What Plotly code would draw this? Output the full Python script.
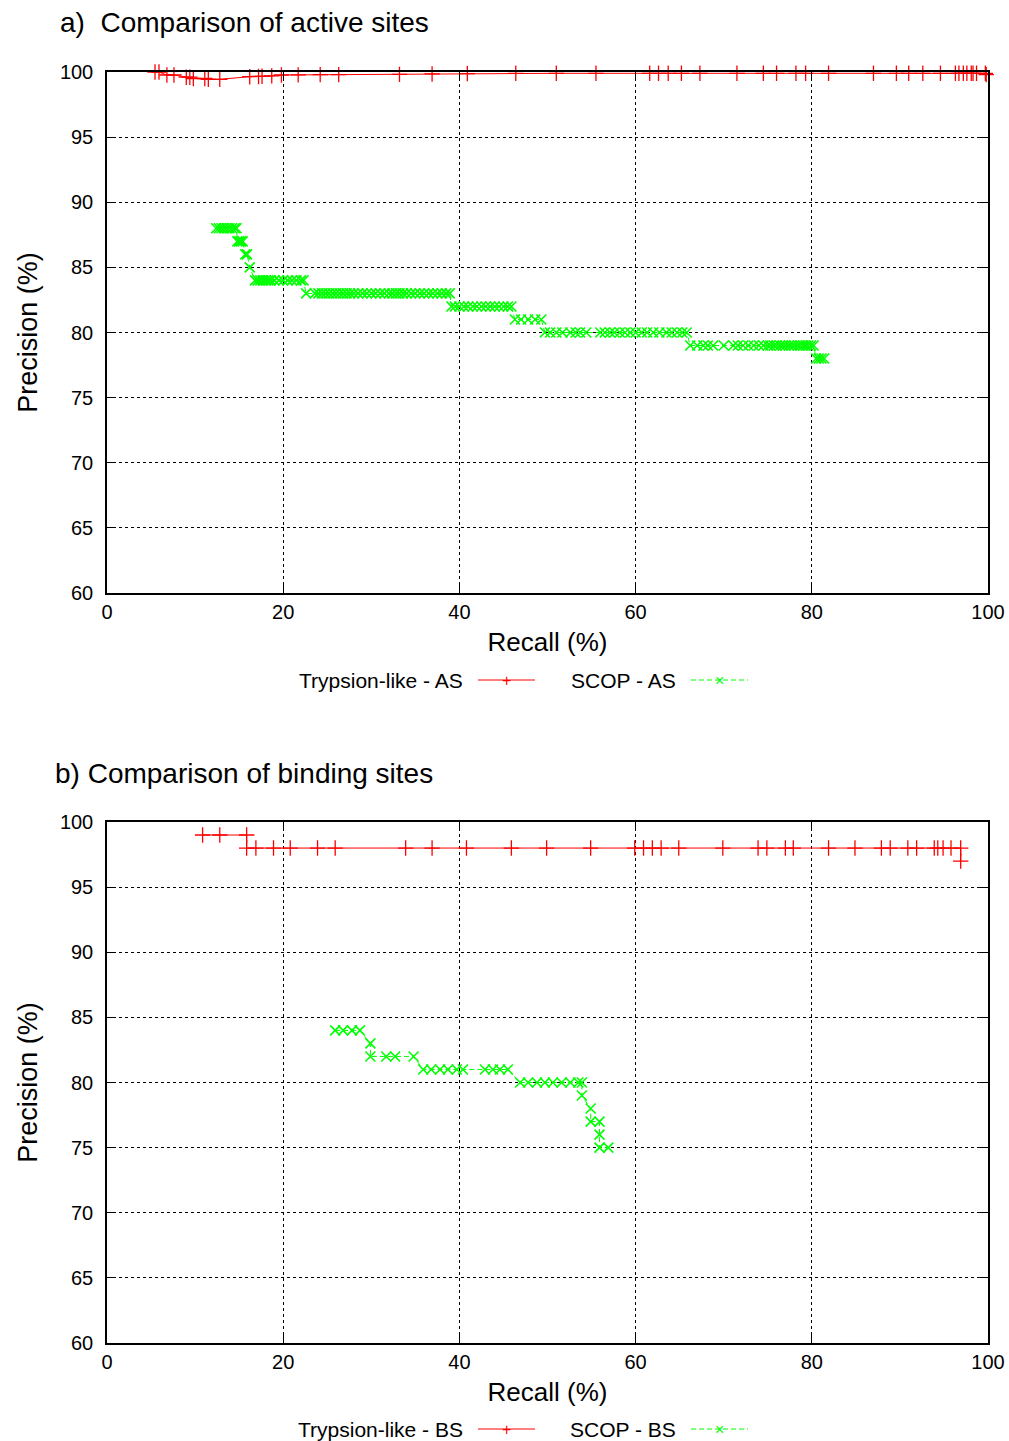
import plotly.graph_objects as go

# ---------------- data: a) active sites ----------------
tryp_as_recall = [5.45, 5.9, 6.8, 7.6, 9.0, 9.4, 9.8, 11.1, 11.5, 12.8, 16.2, 17.2, 17.6,
                  18.7, 19.8, 21.7, 24.2, 26.3, 33.2, 36.9, 40.9, 46.4, 51.0, 55.5, 61.6,
                  62.6, 63.7, 65.2, 67.3, 71.5, 74.5, 76.0, 78.2, 79.3, 81.9, 87.0, 89.6,
                  91.0, 92.6, 94.6, 96.3, 96.7, 97.2, 97.6, 98.1, 98.3, 98.7, 99.7, 99.8]
tryp_as_precision = [100, 100, 99.77, 99.77, 99.6, 99.6, 99.5, 99.5, 99.44, 99.44, 99.64,
                     99.66, 99.67, 99.7, 99.77, 99.78, 99.8, 99.8, 99.82, 99.85, 99.88, 99.9,
                     99.9, 99.9, 99.9, 99.9, 99.9, 99.9, 99.9, 99.9, 99.9, 99.9, 99.9, 99.9,
                     99.9, 99.9, 99.9, 99.9, 99.9, 99.9, 99.9, 99.9, 99.9, 99.9, 99.9, 99.9,
                     99.9, 99.9, 99.8]

scop_as_recall = [
    12.4, 12.7, 13.0, 13.3, 13.6, 13.9, 14.2, 14.5, 14.7,
    14.8, 15.0, 15.2, 15.4,
    15.7, 15.9,
    16.2,
    16.8, 17.1, 17.4, 17.7, 18.0, 18.3, 18.6, 19.0, 19.5, 20.0, 20.5, 21.0, 21.5, 22.0, 22.3,
    22.6, 23.6, 24.0, 24.4, 24.8, 25.2, 25.6, 26.0, 26.4, 26.8, 27.2, 27.6, 28.0, 28.5, 29.0,
    29.5, 30.0, 30.5, 31.0, 31.5, 32.0, 32.4, 32.8, 33.2, 33.6, 34.0, 34.5, 35.0, 35.5, 36.0,
    36.5, 37.0, 37.5, 38.0, 38.5, 38.9,
    39.1, 39.5, 40.0, 40.5, 41.0, 41.5, 42.0, 42.5, 43.0, 43.5, 44.0, 44.5, 45.0, 45.5, 45.9,
    46.3, 47.0, 47.8, 48.6, 49.3,
    49.7, 50.3, 51.0, 51.7, 52.6, 53.2, 53.7, 54.4, 56.0, 56.5, 57.1, 57.6, 58.2, 58.8, 59.4,
    60.0, 60.7, 61.3, 62.0, 62.7, 63.5, 64.1, 64.7, 65.3, 65.8,
    66.2, 67.0, 67.7, 68.2, 68.8, 70.0, 71.1, 71.6, 72.2, 72.8, 73.4, 74.0, 74.5, 75.0, 75.3,
    75.7, 76.0, 76.4, 76.7, 77.0, 77.4, 77.7, 78.0, 78.4, 78.7, 79.0, 79.3, 79.6, 79.9, 80.2,
    80.5, 80.8, 81.1, 81.4]
scop_as_precision = (
    [88] * 9 + [87] * 4 + [86] * 2 + [85] * 1 + [84] * 15 + [83] * 36 + [82] * 15 +
    [81] * 5 + [80] * 25 + [79] * 30 + [78] * 4)

# ---------------- data: b) binding sites ----------------
tryp_bs_recall = [10.85, 12.8, 15.85, 15.85, 16.9, 18.9, 20.8, 23.9, 25.9, 33.9, 36.9, 40.8,
                  45.9, 49.9, 54.9, 59.9, 60.9, 61.9, 62.9, 64.9, 69.9, 73.9, 74.9, 77.0,
                  77.9, 81.9, 84.9, 87.9, 88.9, 90.9, 91.9, 93.9, 94.3, 94.9, 95.8, 96.9,
                  96.9]
tryp_bs_precision = [99, 99, 99, 98, 98, 98, 98, 98, 98, 98, 98, 98, 98, 98, 98, 98, 98, 98,
                     98, 98, 98, 98, 98, 98, 98, 98, 98, 98, 98, 98, 98, 98, 98, 98, 98, 98,
                     97]

scop_bs_recall = [25.9, 26.8, 27.8, 28.7, 29.9, 29.9, 31.7, 32.7, 34.8, 35.9, 36.8, 37.8,
                  38.7, 39.7, 40.4, 42.9, 43.8, 44.6, 45.5, 46.9, 47.8, 48.8, 49.7, 50.6,
                  51.6, 52.6, 53.5, 53.9, 53.9, 54.9, 54.9, 55.9, 55.9, 55.9, 56.9]
scop_bs_precision = [84, 84, 84, 84, 83, 82, 82, 82, 82, 81, 81, 81, 81, 81, 81, 81, 81, 81,
                     81, 80, 80, 80, 80, 80, 80, 80, 80, 80, 79, 78, 77, 77, 76, 75, 75]

x_ticks = [0, 20, 40, 60, 80, 100]
y_ticks = [60, 65, 70, 75, 80, 85, 90, 95, 100]

titles = ["a)  Comparison of active sites", "b) Comparison of binding sites"]
legend_a = ["Trypsion-like - AS", "SCOP - AS"]
legend_b = ["Trypsion-like - BS", "SCOP - BS"]

RED = "#ff0000"
GREEN = "#00ff00"
FONT = "Liberation Sans, Arial, Helvetica, sans-serif"
GDASH = "5px,3px"

W, H = 1009, 1441
L, R = 107, 21
PW = W - L - R


def px_x(p):
    return (p - L) / PW


def px_y(p):
    return (H - p) / H


fig = go.Figure()


def add_pair(xr, xs_red, ys_red, xs_g, ys_g, name_r, name_g):
    fig.add_trace(go.Scatter(
        x=xs_red, y=ys_red, mode="lines+markers", name=name_r, xaxis=xr[0], yaxis=xr[1],
        line=dict(color=RED, width=1),
        marker=dict(symbol="cross-thin", size=11, line=dict(color=RED, width=1.3)),
        cliponaxis=False, showlegend=False))
    fig.add_trace(go.Scatter(
        x=xs_g, y=ys_g, mode="lines+markers", name=name_g, xaxis=xr[0], yaxis=xr[1],
        line=dict(color=GREEN, width=1, dash=GDASH),
        marker=dict(symbol="x-thin", size=10, line=dict(color=GREEN, width=1.6)),
        cliponaxis=False, showlegend=False))


add_pair(("x", "y"), tryp_as_recall, tryp_as_precision, scop_as_recall, scop_as_precision,
         legend_a[0], legend_a[1])
add_pair(("x2", "y2"), tryp_bs_recall, tryp_bs_precision, scop_bs_recall, scop_bs_precision,
         legend_b[0], legend_b[1])

axis_common = dict(
    showline=True, linecolor="black", linewidth=1.5, mirror="ticks",
    ticks="inside", ticklen=8, tickwidth=1, tickcolor="black",
    showgrid=True, gridcolor="black", gridwidth=1, griddash="dot",
    zeroline=False, automargin=False,
    tickfont=dict(family=FONT, size=20, color="black"),
)

xa = dict(axis_common, range=[0, 100], tickvals=x_ticks, ticktext=[str(v) for v in x_ticks],
          title=dict(text="Recall (%)", font=dict(family=FONT, size=26, color="black"),
                     standoff=11))
ya = dict(axis_common, range=[60, 100], tickvals=y_ticks, ticktext=[str(v) for v in y_ticks],
          ticklabelstandoff=8,
          title=dict(text="Precision (%)", font=dict(family=FONT, size=27, color="black"),
                     standoff=14))

fig.update_layout(
    template="none",
    width=W, height=H,
    margin=dict(l=L, r=R, t=0, b=0, pad=0, autoexpand=False),
    paper_bgcolor="white", plot_bgcolor="white",
    xaxis=dict(xa, domain=[0, 1], anchor="y"),
    yaxis=dict(ya, domain=[px_y(593), px_y(72)], anchor="x"),
    xaxis2=dict(xa, domain=[0, 1], anchor="y2"),
    yaxis2=dict(ya, domain=[px_y(1343), px_y(822)], anchor="x2"),
    font=dict(family=FONT, color="black"),
    showlegend=False,
)

ann = []
shapes = []
# titles
ann.append(dict(text=titles[0], x=px_x(58), y=px_y(22), xref="paper", yref="paper",
                xanchor="left", yanchor="middle", showarrow=False,
                font=dict(family=FONT, size=28, color="black")))
ann.append(dict(text=titles[1], x=px_x(53), y=px_y(773), xref="paper", yref="paper",
                xanchor="left", yanchor="middle", showarrow=False,
                font=dict(family=FONT, size=28, color="black")))

# gnuplot-style legends (text, then line sample)
for labels, ycen in ((legend_a, 680), (legend_b, 1429)):
    yc = px_y(ycen)
    for lab, txt_right, l0, l1, mk, color, dash, sym in (
            (labels[0], 465, 478, 535, 506, RED, "solid", "+"),
            (labels[1], 678, 691, 748, 719, GREEN, GDASH, "×")):
        ann.append(dict(text=lab, x=px_x(txt_right), y=yc, xref="paper", yref="paper",
                        xanchor="right", yanchor="middle", showarrow=False,
                        font=dict(family=FONT, size=21, color="black")))
        shapes.append(dict(type="line", xref="paper", yref="paper", x0=px_x(l0), x1=px_x(l1),
                           y0=yc, y1=yc, line=dict(color=color, width=1, dash=dash)))
        ann.append(dict(text=sym, x=px_x(mk), y=yc, xref="paper", yref="paper",
                        xanchor="center", yanchor="middle", showarrow=False,
                        font=dict(family=FONT, size=16, color=color)))

fig.update_layout(annotations=ann, shapes=shapes)
fig.write_html("out.html", config={"displayModeBar": False},
               post_script="document.body.style.margin='0';document.body.style.padding='0';")
